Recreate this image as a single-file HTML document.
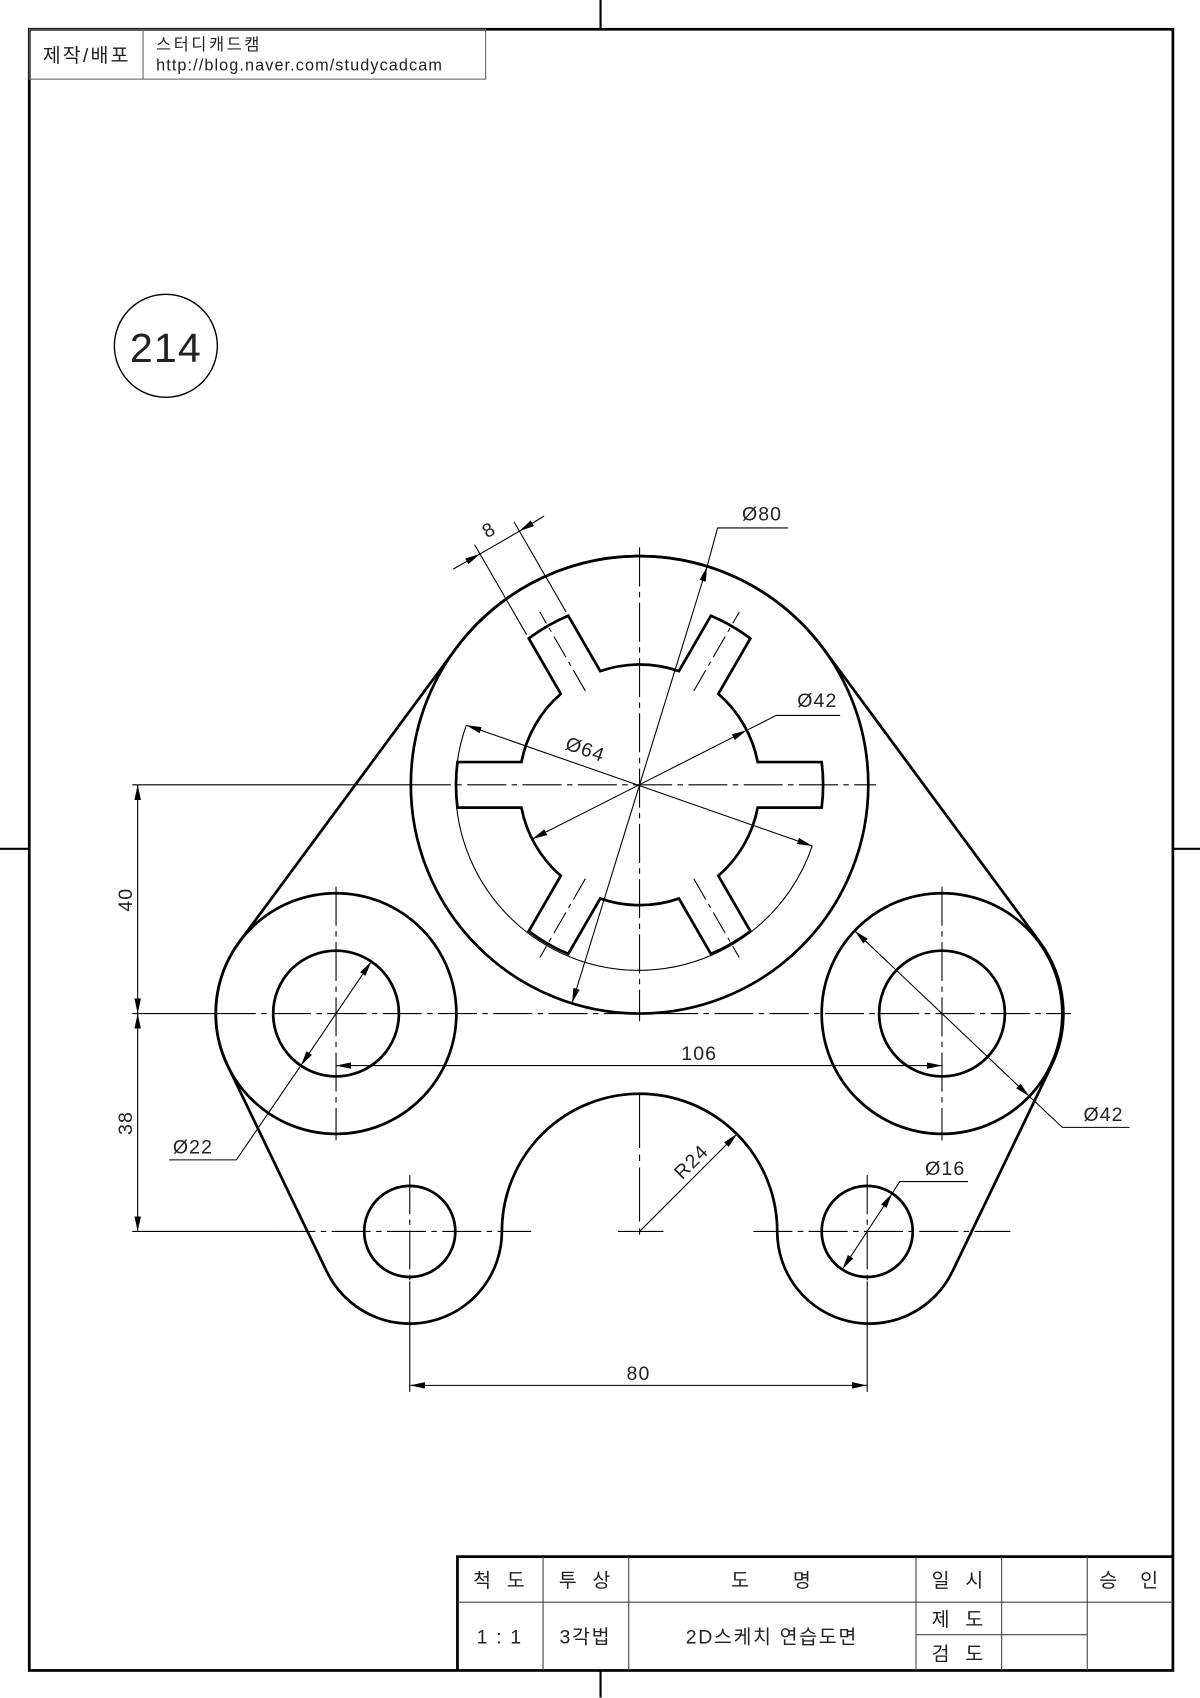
<!DOCTYPE html>
<html><head><meta charset="utf-8">
<style>
html,body{margin:0;padding:0;background:#fff;}
svg{display:block;}
text{font-family:"Liberation Sans","Noto Sans CJK KR",sans-serif;fill:#222;}
</style></head>
<body>
<svg width="1200" height="1698" viewBox="0 0 1107 1566.4" preserveAspectRatio="none" xmlns="http://www.w3.org/2000/svg">
<defs>
<marker id="ar" viewBox="0 0 14 6" refX="14" refY="3" markerWidth="14" markerHeight="6" markerUnits="userSpaceOnUse" orient="auto-start-reverse">
<path d="M0,0 L14,3 L0,6 Z" fill="#000"/>
</marker>
</defs>
<rect width="1107" height="1566.4" fill="#fff"/>
<rect x="27" y="27" width="1055" height="1514" fill="none" stroke="#000" stroke-width="2.5"/>
<g stroke="#000" stroke-width="2">
<line x1="554" y1="0" x2="554" y2="27"/>
<line x1="554" y1="1541" x2="554" y2="1566"/>
<line x1="0" y1="783" x2="27" y2="783"/>
<line x1="1082" y1="783" x2="1107" y2="783"/>
</g>
<g stroke="#666" stroke-width="1" fill="none">
<rect x="27" y="27" width="421" height="46"/>
<line x1="132" y1="27" x2="132" y2="73"/>
</g>
<text x="80" y="57" font-size="18" text-anchor="middle" letter-spacing="2">제작/배포</text>
<text x="144" y="46" font-size="15" letter-spacing="2.5">스터디캐드캠</text>
<text x="144" y="65" font-size="15" letter-spacing="1">http://blog.naver.com/studycadcam</text>
<circle cx="153" cy="319" r="47.5" fill="none" stroke="#000" stroke-width="1.3"/>
<text x="153" y="334" font-size="38" text-anchor="middle" letter-spacing="1" fill="#333">214</text>

<g stroke="#000" fill="none">
<path d="M422,1541 L422,1436 L1082,1436" stroke-width="2.5"/>
<g stroke-width="1" stroke="#444">
<line x1="422" y1="1478" x2="1082" y2="1478"/>
<line x1="845" y1="1508" x2="1003" y2="1508"/>
<line x1="501" y1="1436" x2="501" y2="1541"/>
<line x1="580" y1="1436" x2="580" y2="1541"/>
<line x1="845" y1="1436" x2="845" y2="1541"/>
<line x1="924" y1="1436" x2="924" y2="1541"/>
<line x1="1003" y1="1436" x2="1003" y2="1541"/>
</g>
</g>
<g font-size="18" text-anchor="middle" letter-spacing="1.5">
<text x="461" y="1464">척&#160;&#160;도</text>
<text x="540" y="1464">투&#160;&#160;상</text>
<text x="712" y="1464">도&#160;&#160;&#160;&#160;&#160;&#160;명</text>
<text x="884" y="1464">일&#160;&#160;시</text>
<text x="1042" y="1464">승&#160;&#160;&#160;인</text>
<text x="461" y="1516">1 : 1</text>
<text x="540" y="1516">3각법</text>
<text x="712" y="1516">2D스케치 연습도면</text>
<text x="884" y="1500">제&#160;&#160;도</text>
<text x="884" y="1532">검&#160;&#160;도</text>
</g>

<g fill="none" stroke="#000" stroke-width="2.5">
<path d="M463,1136 A127,127 0 0 1 717,1136 A85,85 0 0 0 878.6,1172.9 L970,983 A111,111 0 0 0 959.3,869.1 L759.8,598.7 A211,211 0 0 0 420.2,598.7 L220.7,869.1 A111,111 0 0 0 210,983 L301.4,1172.9 A85,85 0 0 0 463,1136 Z"/>
<circle cx="590" cy="724" r="211"/>
<circle cx="310" cy="935" r="111"/>
<circle cx="869" cy="935" r="111"/>
<circle cx="310" cy="935" r="58"/>
<circle cx="869" cy="935" r="58"/>
<circle cx="378" cy="1136" r="42"/>
<circle cx="800" cy="1136" r="42"/>
<path d="M699,703 L758,703 A168,168 0 0 1 758,745 L699,745 A111,111 0 0 1 662.7,807.9 L692.2,859 A168,168 0 0 1 655.8,880 L626.3,828.9 A111,111 0 0 1 553.7,828.9 L524.2,880 A168,168 0 0 1 487.8,859 L517.3,807.9 A111,111 0 0 1 481,745 L422,745 A168,168 0 0 1 422,703 L481,703 A111,111 0 0 1 517.3,640.1 L487.8,589 A168,168 0 0 1 524.2,568 L553.7,619.1 A111,111 0 0 1 626.3,619.1 L655.8,568 A168,168 0 0 1 692.2,589 L662.7,640.1 A111,111 0 0 1 699,703 Z"/>
</g>

<g fill="none" stroke="#000" stroke-width="1">
<path d="M430.2,669 A169,169 0 1 0 749.3,780.4"/>
<line x1="122" y1="724" x2="380" y2="724"/>
<line x1="122" y1="935" x2="200" y2="935"/>
<line x1="122" y1="1136" x2="255" y2="1136"/>
<line x1="378" y1="1182" x2="378" y2="1284"/>
<line x1="800" y1="1182" x2="800" y2="1284"/>
<g stroke-dasharray="36,5,5,5">
<line x1="380" y1="724" x2="808" y2="724"/>
<line x1="590" y1="505" x2="590" y2="942"/>
<line x1="200" y1="935" x2="988" y2="935"/>
<line x1="310" y1="818" x2="310" y2="1052"/>
<line x1="869" y1="818" x2="869" y2="1052"/>
<line x1="255" y1="1136" x2="490" y2="1136"/>
<line x1="695" y1="1136" x2="932" y2="1136"/>
<line x1="378" y1="1084" x2="378" y2="1182"/>
<line x1="800" y1="1084" x2="800" y2="1182"/>
</g>
<line x1="570" y1="1136" x2="612" y2="1136"/>
<line x1="590" y1="1009" x2="590" y2="1142" stroke-dasharray="50,6,6,6"/>
<g stroke-dasharray="22,5,4,5">
<line x1="640" y1="810.6" x2="682" y2="883.4"/>
<line x1="540" y1="810.6" x2="498" y2="883.4"/>
<line x1="540" y1="637.4" x2="498" y2="564.6"/>
<line x1="640" y1="637.4" x2="682" y2="564.6"/>
</g>
<line x1="485.8" y1="585.5" x2="437.8" y2="502.4"/>
<line x1="522.2" y1="564.5" x2="474.2" y2="481.4"/>
<line x1="418" y1="525" x2="442.8" y2="511" marker-end="url(#ar)"/>
<line x1="502" y1="476" x2="479.2" y2="490" marker-end="url(#ar)"/>
<line x1="442.8" y1="511" x2="479.2" y2="490"/>
<line x1="127" y1="724" x2="127" y2="935" marker-start="url(#ar)" marker-end="url(#ar)"/>
<line x1="127" y1="935" x2="127" y2="1136" marker-start="url(#ar)" marker-end="url(#ar)"/>
<line x1="310" y1="983" x2="869" y2="983" marker-start="url(#ar)" marker-end="url(#ar)"/>
<line x1="378" y1="1278" x2="800" y2="1278" marker-start="url(#ar)" marker-end="url(#ar)"/>
<line x1="430.2" y1="669" x2="749.3" y2="780.4" marker-start="url(#ar)" marker-end="url(#ar)"/>
<line x1="527.7" y1="925.5" x2="652.3" y2="522.5" marker-start="url(#ar)" marker-end="url(#ar)"/>
<polyline points="652.3,522.5 662,487 727,487"/>
<line x1="491" y1="774" x2="688.9" y2="673.7" marker-start="url(#ar)" marker-end="url(#ar)"/>
<polyline points="688.9,673.7 716,660 775,660"/>
<line x1="277.5" y1="983" x2="342.5" y2="887" marker-start="url(#ar)" marker-end="url(#ar)"/>
<polyline points="277.5,983 218,1070 156,1070"/>
<line x1="788.4" y1="858.6" x2="949.6" y2="1011.4" marker-start="url(#ar)" marker-end="url(#ar)"/>
<polyline points="949.6,1011.4 980,1040 1042,1040"/>
<line x1="777" y1="1171" x2="823" y2="1101" marker-start="url(#ar)" marker-end="url(#ar)"/>
<polyline points="823,1101 830,1090 893,1090"/>
<line x1="590" y1="1136" x2="680" y2="1046" marker-end="url(#ar)"/>
</g>

<g font-size="18" text-anchor="middle" letter-spacing="1">
<text x="0" y="0" transform="translate(122,830) rotate(-90)">40</text>
<text x="0" y="0" transform="translate(122,1036) rotate(-90)">38</text>
<text x="645" y="978">106</text>
<text x="589" y="1273">80</text>
<text x="703" y="480">Ø80</text>
<text x="754" y="652">Ø42</text>
<text x="0" y="0" transform="translate(538,697) rotate(19.5)">Ø64</text>
<text x="0" y="0" transform="translate(454,494) rotate(-30)">8</text>
<text x="178" y="1064">Ø22</text>
<text x="1018" y="1034">Ø42</text>
<text x="872" y="1084">Ø16</text>
<text x="0" y="0" transform="translate(642,1076) rotate(-45)">R24</text>
</g>
</svg>
</body></html>
